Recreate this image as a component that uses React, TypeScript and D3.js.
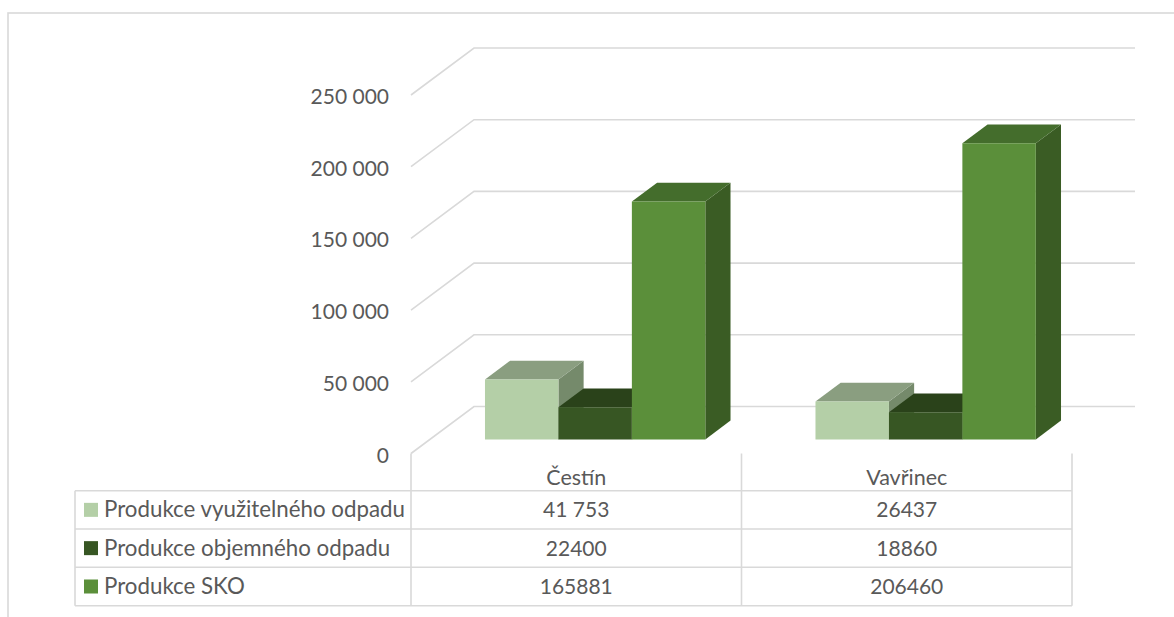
import React from 'react';
import * as d3 from 'd3';

const categories = ['Čestín', 'Vavřinec'];
const seriesNames = ['Produkce využitelného odpadu', 'Produkce objemného odpadu', 'Produkce SKO'];
const vyuzitelnyOdpad = [41753, 26437];
const objemnyOdpad = [22400, 18860];
const skoOdpad = [165881, 206460];
const tableLabels = [
  ['41 753', '26437'],
  ['22400', '18860'],
  ['165881', '206460'],
];
const yTicks = [0, 50000, 100000, 150000, 200000, 250000];

const seriesValues = [vyuzitelnyOdpad, objemnyOdpad, skoOdpad];
const seriesColors = [
  { front: '#b4cfa7', top: '#8a9e80', side: '#758a6b' },
  { front: '#375623', top: '#2a421a', side: '#22361a' },
  { front: '#5b8f3a', top: '#446d2c', side: '#3a5c24' },
];

const W = 1174;
const H = 617;
const FONT = 'Lato, "Open Sans", sans-serif';
const TEXT = '#595959';
const GRID = '#d9d9d9';

const plotLeft = 411;
const plotRight = 1072;
const depthDx = 63;
const depthDy = -47;
const barD0 = 0.3;
const barD1 = 0.7;

const x = d3.scaleBand<string>().domain(categories).range([plotLeft, plotRight]).paddingInner(0).paddingOuter(0);
const xs = d3.scaleBand<string>().domain(seriesNames).range([0, x.bandwidth()]).paddingInner(0).paddingOuter(0.75);
const y = d3.scaleLinear().domain([0, 250000]).range([453.5, 95]);
const fmt = d3.formatLocale({ decimal: ',', thousands: '\u00a0', grouping: [3], currency: ['', ''] }).format(',d');

const proj = (px: number, py: number, d: number): [number, number] => [px + depthDx * d, py + depthDy * d];
const pts = (arr: [number, number][]) => arr.map((p) => p.join(',')).join(' ');

export default function App() {
  const gridlines = yTicks.map((t) => {
    const yf = y(t);
    const [bx, by] = proj(plotLeft, yf, 1);
    return (
      <polyline
        key={'g' + t}
        points={pts([[plotLeft, yf], [bx, by], [plotRight + depthDx, by]])}
        fill="none"
        stroke={GRID}
        strokeWidth={1.6}
      />
    );
  });

  const tickLabels = yTicks.map((t) => (
    <text
      key={'t' + t}
      x={389}
      y={y(t) + 9}
      textAnchor="end"
      fontFamily={FONT}
      fontSize={21}
      fill={TEXT}
    >
      {fmt(t)}
    </text>
  ));

  const bars: React.ReactNode[] = [];
  categories.forEach((cat, ci) => {
    seriesNames.forEach((s, si) => {
      const v = seriesValues[si][ci];
      const x0 = (x(cat) as number) + (xs(s) as number);
      const x1 = x0 + xs.bandwidth();
      const yb = y(0);
      const yt = y(v);
      const c = seriesColors[si];
      const fbl = proj(x0, yb, barD0);
      const fbr = proj(x1, yb, barD0);
      const ftl = proj(x0, yt, barD0);
      const ftr = proj(x1, yt, barD0);
      const bbr = proj(x1, yb, barD1);
      const btl = proj(x0, yt, barD1);
      const btr = proj(x1, yt, barD1);
      bars.push(
        <g key={cat + s}>
          <polygon points={pts([fbr, bbr, btr, ftr])} fill={c.side} />
          <polygon points={pts([ftl, ftr, btr, btl])} fill={c.top} />
          <polygon points={pts([fbl, fbr, ftr, ftl])} fill={c.front} />
        </g>
      );
    });
  });

  // data table
  const headerTop = y(0);
  const rowTops = [490.7, 529, 567.3, 605.7];
  const tableLeft = 75;
  const colEdges = [plotLeft, ...categories.map((c) => (x(c) as number) + x.bandwidth())];

  const tableLines: React.ReactNode[] = [];
  colEdges.forEach((cx, i) => {
    tableLines.push(
      <line key={'tv' + i} x1={cx} x2={cx} y1={headerTop} y2={rowTops[3]} stroke={GRID} strokeWidth={1.6} />
    );
  });
  tableLines.push(
    <line key="tvl" x1={tableLeft} x2={tableLeft} y1={rowTops[0]} y2={rowTops[3]} stroke={GRID} strokeWidth={1.6} />
  );
  rowTops.forEach((ry, i) => {
    tableLines.push(
      <line key={'th' + i} x1={tableLeft} x2={plotRight} y1={ry} y2={ry} stroke={GRID} strokeWidth={1.6} />
    );
  });

  const headerTexts = categories.map((c) => (
    <text
      key={'h' + c}
      x={(x(c) as number) + x.bandwidth() / 2}
      y={485}
      textAnchor="middle"
      fontFamily={FONT}
      fontSize={21.5}
      fill={TEXT}
    >
      {c}
    </text>
  ));

  const rows = seriesNames.map((s, si) => {
    const top = rowTops[si];
    const bottom = rowTops[si + 1];
    const mid = (top + bottom) / 2;
    return (
      <g key={'r' + s}>
        <rect x={84} y={mid - 7} width={14} height={14} fill={seriesColors[si].front} />
        <text x={104} y={mid + 7.5} fontFamily={FONT} fontSize={22.3} fill={TEXT}>
          {s}
        </text>
        {categories.map((c, ci) => (
          <text
            key={c}
            x={(x(c) as number) + x.bandwidth() / 2}
            y={mid + 7.5}
            textAnchor="middle"
            fontFamily={FONT}
            fontSize={21}
            fill={TEXT}
          >
            {tableLabels[si][ci]}
          </text>
        ))}
      </g>
    );
  });

  return (
    <svg
      width={W}
      height={H}
      viewBox={`0 0 ${W} ${H}`}
      style={{ position: 'absolute', left: 0, top: 0, display: 'block', background: '#fff' }}
    >
      <rect x={0} y={0} width={W} height={H} fill="#fff" />
      <rect x={8} y={13} width={W + 20} height={H + 20} fill="none" stroke={GRID} strokeWidth={1.6} />
      {gridlines}
      {tickLabels}
      {bars}
      {tableLines}
      {headerTexts}
      {rows}
    </svg>
  );
}
